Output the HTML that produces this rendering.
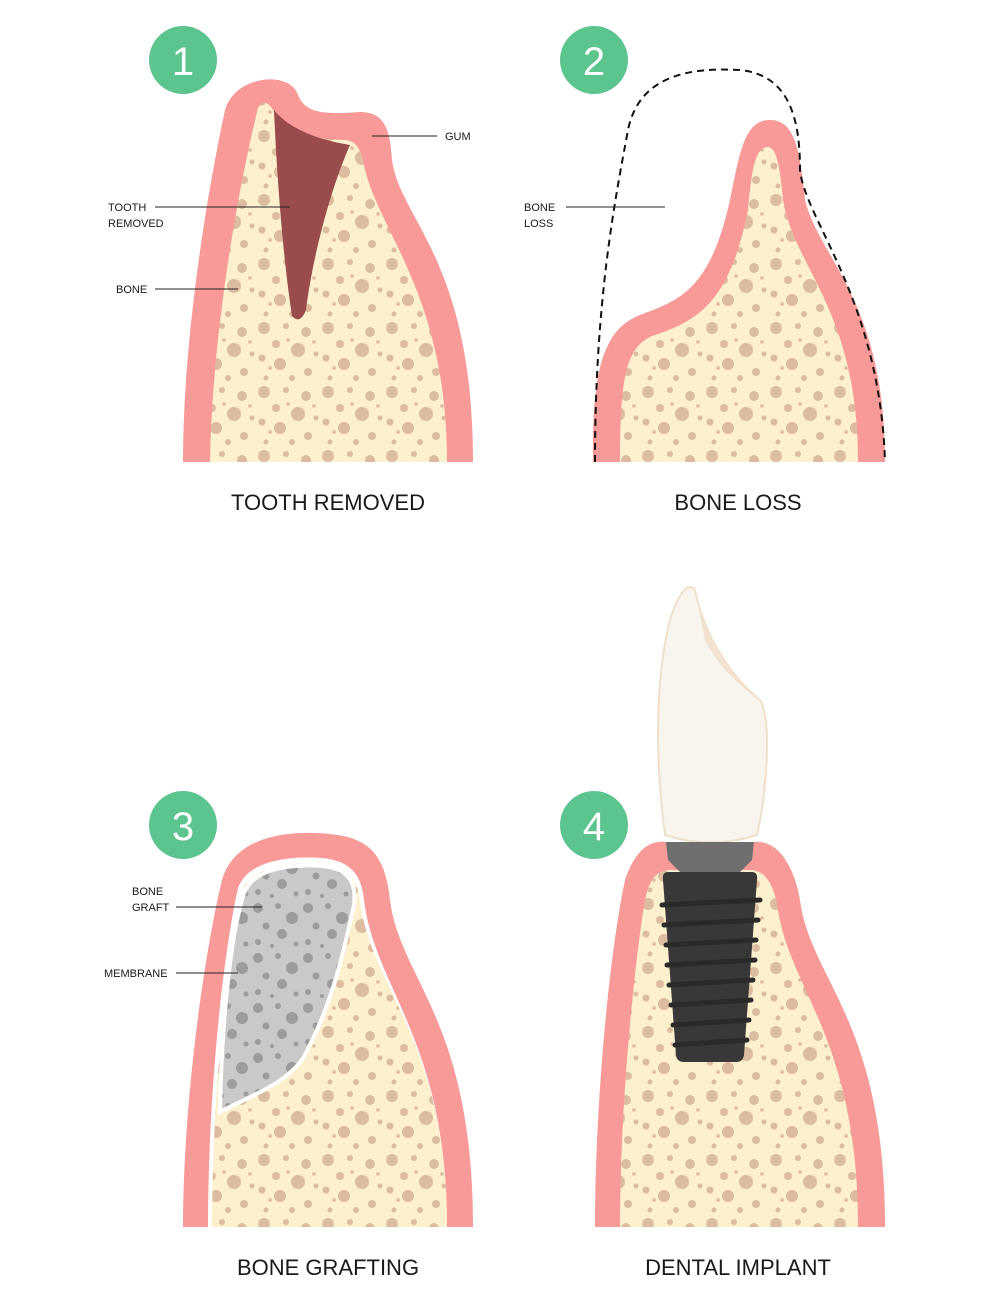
<!DOCTYPE html>
<html><head><meta charset="utf-8"><style>
html,body{margin:0;padding:0;background:#fff}
svg{display:block}
text{font-family:"Liberation Sans",sans-serif;fill:#1a1a1a}
</style></head><body>
<svg width="1000" height="1305" viewBox="0 0 1000 1305" xmlns="http://www.w3.org/2000/svg">
<defs>
<pattern id="dots" width="64" height="64" patternUnits="userSpaceOnUse">
<rect width="64" height="64" fill="#fcf0cd"/>
<g fill="#dcbd9f">
<circle cx="8" cy="8" r="6"/><circle cx="30" cy="6" r="3"/><circle cx="50" cy="12" r="5"/>
<circle cx="20" cy="24" r="4"/><circle cx="42" cy="30" r="7"/><circle cx="60" cy="34" r="2.5"/>
<circle cx="6" cy="38" r="3.5"/><circle cx="24" cy="44" r="6"/><circle cx="52" cy="52" r="4"/>
<circle cx="10" cy="58" r="2.5"/><circle cx="36" cy="58" r="3"/><circle cx="32" cy="20" r="1.8"/>
<circle cx="14" cy="48" r="1.8"/><circle cx="58" cy="22" r="1.8"/>
</g></pattern>
<pattern id="gdots" width="50" height="50" patternUnits="userSpaceOnUse">
<rect width="50" height="50" fill="#c9c9c9"/>
<g fill="#9c9c9c">
<circle cx="8" cy="8" r="5"/><circle cx="28" cy="6" r="3"/><circle cx="42" cy="18" r="6"/>
<circle cx="16" cy="26" r="3.5"/><circle cx="32" cy="34" r="5"/><circle cx="8" cy="42" r="3"/>
<circle cx="46" cy="44" r="2.5"/><circle cx="22" cy="46" r="2"/>
</g></pattern>
</defs>

<!-- Panel 1 -->
<path d="M183,462 C183,330 210,180 225,110 C235,75 290,70 298,95 C305,112 320,115 360,112 C385,112 390,130 392,160 C400,220 473,260 473,462 Z" fill="#f89a98"/>
<path d="M210,462 C212,330 240,180 258,108 Q266,96 274,112 C290,135 320,140 345,140 Q358,140 363,160 C375,230 447,290 447,462 Z" fill="url(#dots)"/>
<path d="M274,110 C290,130 320,140 350,145 C330,190 312,260 306,310 Q300,325 292,316 C285,270 278,200 274,110 Z" fill="#9a4c4c"/>
<circle cx="183" cy="60" r="34" fill="#5cc48e"/>
<text x="183" y="75" font-size="40" text-anchor="middle" style="fill:#fff">1</text>
<g stroke="#222" stroke-width="1"><line x1="372" y1="136" x2="437" y2="136"/><line x1="155" y1="207" x2="290" y2="207"/><line x1="155" y1="289" x2="238" y2="289"/></g>
<g font-size="11"><text x="445" y="140">GUM</text><text x="108" y="211">TOOTH</text><text x="108" y="227">REMOVED</text><text x="116" y="293">BONE</text></g>
<text x="328" y="510" font-size="22" text-anchor="middle">TOOTH REMOVED</text>

<!-- Panel 2 -->
<path d="M593,462 C592,380 600,330 640,315 C680,300 710,290 730,200 C740,150 745,120 770,120 C795,120 800,150 805,200 C820,260 885,300 885,462 Z" fill="#f89a98"/>
<path d="M620,462 C620,380 625,345 655,335 C700,320 730,300 748,210 C752,165 756,147 768,147 C776,147 780,165 783,200 C795,270 858,310 858,462 Z" fill="url(#dots)"/>
<path d="M595,462 C595,300 615,200 628,130 C640,70 700,68 740,70 C790,75 800,120 800,170 C805,220 880,300 885,462" fill="none" stroke="#111" stroke-width="2" stroke-dasharray="7,5"/>
<circle cx="594" cy="60" r="34" fill="#5cc48e"/>
<text x="594" y="75" font-size="40" text-anchor="middle" style="fill:#fff">2</text>
<line x1="566" y1="207" x2="665" y2="207" stroke="#222" stroke-width="1"/>
<g font-size="11"><text x="524" y="211">BONE</text><text x="524" y="227">LOSS</text></g>
<text x="738" y="510" font-size="22" text-anchor="middle">BONE LOSS</text>

<!-- Panel 3 -->
<path d="M183,1227 C183,1100 205,950 222,880 C235,835 290,830 330,834 C370,838 385,855 390,900 C400,980 473,1020 473,1227 Z" fill="#f89a98"/>
<path d="M208,1227 C208,1100 222,960 238,888 C248,860 290,856 322,858 C355,861 362,880 364,900 C375,990 447,1040 447,1227 Z" fill="#fff"/>
<path d="M212,1227 C212,1100 226,962 242,892 C252,866 290,862 320,864 C350,866 358,882 360,902 C372,990 447,1040 447,1227 Z" fill="url(#dots)"/>
<path d="M220,1112 C222,1010 232,930 244,893 C254,868 290,864 322,866 C346,868 357,880 354,905 C342,960 330,1010 302,1060 C282,1086 250,1096 220,1112 Z" fill="url(#gdots)" stroke="#fff" stroke-width="4"/>
<circle cx="183" cy="825" r="34" fill="#5cc48e"/>
<text x="183" y="840" font-size="40" text-anchor="middle" style="fill:#fff">3</text>
<g stroke="#222" stroke-width="1"><line x1="176" y1="907" x2="262" y2="907"/><line x1="176" y1="973" x2="238" y2="973"/></g>
<g font-size="11"><text x="132" y="895">BONE</text><text x="132" y="911">GRAFT</text><text x="104" y="977">MEMBRANE</text></g>
<text x="328" y="1275" font-size="22" text-anchor="middle">BONE GRAFTING</text>

<!-- Panel 4 -->
<path d="M595,1227 C595,1100 610,950 625,880 C635,850 650,840 665,842 L755,842 C780,840 795,870 800,900 C810,980 885,1020 885,1227 Z" fill="#f89a98"/>
<path d="M620,1227 C620,1100 635,960 645,900 C650,875 660,870 670,870 L750,870 C768,870 775,890 778,910 C790,990 858,1040 858,1227 Z" fill="url(#dots)"/>
<path d="M665,835 C655,760 655,680 670,620 C678,595 688,580 695,590 C705,640 735,680 760,700 C772,720 767,790 757,835 Q710,850 665,835 Z" fill="#f8f4ee" stroke="#eee0cc" stroke-width="2"/>
<path d="M695,590 C705,640 735,680 760,700 C745,690 720,670 705,640 Z" fill="#f1e3cf"/>
<polygon points="666,842 754,842 752,860 740,872 680,872 668,860" fill="#6f6f6f"/>
<path d="M668,872 L752,872 Q758,872 757,880 L744,1055 Q743,1062 736,1062 L684,1062 Q677,1062 676,1055 L663,880 Q662,872 668,872 Z" fill="#383838"/>
<g stroke="#2a2a2a" stroke-width="5" stroke-linecap="round">
<line x1="662" y1="905" x2="760" y2="900"/><line x1="664" y1="925" x2="758" y2="920"/>
<line x1="666" y1="945" x2="756" y2="940"/><line x1="667" y1="965" x2="755" y2="960"/>
<line x1="669" y1="985" x2="753" y2="980"/><line x1="671" y1="1005" x2="751" y2="1000"/>
<line x1="673" y1="1025" x2="749" y2="1020"/><line x1="675" y1="1045" x2="747" y2="1040"/>
</g>
<circle cx="594" cy="825" r="34" fill="#5cc48e"/>
<text x="594" y="840" font-size="40" text-anchor="middle" style="fill:#fff">4</text>
<text x="738" y="1275" font-size="22" text-anchor="middle">DENTAL IMPLANT</text>
</svg>
</body></html>
